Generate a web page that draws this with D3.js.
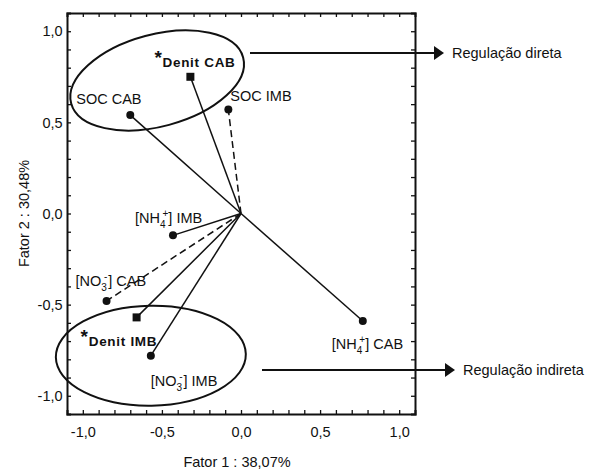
<html>
<head>
    <style>
        body { margin: 0; background: #fff; }
        text { font-family: "Liberation Sans", Arial, sans-serif; fill: #111; }
    </style>
</head>
<body>
    <div id="chart"></div>
    <script src="https://d3js.org/d3.v7.min.js"></script>
    <script>
        // loadings
        var names = ["Denit CAB", "SOC CAB", "SOC IMB", "NH4 IMB", "NO3 CAB", "Denit IMB", "NO3 IMB", "NH4 CAB"];
        var fator1 = [-0.32, -0.70, -0.08, -0.43, -0.85, -0.66, -0.57, 0.77];
        var fator2 = [0.75, 0.54, 0.57, -0.12, -0.48, -0.57, -0.78, -0.59];
        var shapes = ["square", "circle", "circle", "circle", "circle", "square", "circle", "circle"];
        var dashed = [false, false, true, false, true, false, false, false];
        var tickValues = [-1.0, -0.5, 0.0, 0.5, 1.0];
        var tickLabels = ["-1,0", "-0,5", "0,0", "0,5", "1,0"];

        // groups circled on the chart (centre in data units)
        var groupCx = [-0.53, -0.57];
        var groupCy = [0.73, -0.78];
        var groupText = ["Regulação direta", "Regulação indireta"];

        var width = 601, height = 471;
        var margin = { left: 67, top: 13, right: 186, bottom: 57 };

        var svg = d3.select("#chart").append("svg")
            .attr("width", width)
            .attr("height", height);

        var x = d3.scaleLinear().domain([-1.1, 1.1]).range([margin.left, width - margin.right]);
        var y = d3.scaleLinear().domain([-1.1, 1.1]).range([height - margin.bottom, margin.top]);

        var minor = d3.range(-1.0, 1.001, 0.1);

        // axes with inward ticks on all four sides
        function fmt(d) {
            var i = tickValues.findIndex(function (t) { return Math.abs(t - d) < 1e-6; });
            return i >= 0 ? tickLabels[i] : "";
        }
        var axB = svg.append("g").attr("transform", "translate(0," + y.range()[0] + ")")
            .call(d3.axisBottom(x).tickValues(minor).tickSize(-4).tickFormat(fmt));
        var axL = svg.append("g").attr("transform", "translate(" + x.range()[0] + ",0)")
            .call(d3.axisLeft(y).tickValues(minor).tickSize(-4).tickFormat(fmt));
        var axT = svg.append("g").attr("transform", "translate(0," + y.range()[1] + ")")
            .call(d3.axisTop(x).tickValues(minor).tickSize(-4).tickFormat(""));
        var axR = svg.append("g").attr("transform", "translate(" + x.range()[1] + ",0)")
            .call(d3.axisRight(y).tickValues(minor).tickSize(-4).tickFormat(""));

        [axB, axL, axT, axR].forEach(function (g) {
            g.select(".domain").attr("stroke", "#111").attr("stroke-width", 2);
            g.selectAll(".tick line").attr("stroke", "#111").attr("stroke-width", 1.3);
            g.selectAll(".tick text").attr("font-size", 14.5)
                .attr("font-family", "Liberation Sans, Arial, sans-serif").attr("fill", "#222");
        });
        axB.selectAll(".tick text").attr("dy", "1.35em");
        axL.selectAll(".tick text").attr("dx", "-0.1em");

        // axis titles
        svg.append("text")
            .attr("x", x(0) - 4).attr("y", 467)
            .attr("text-anchor", "middle").attr("font-size", 14.5)
            .text("Fator 1 : 38,07%");
        svg.append("text")
            .attr("transform", "translate(29," + y(0) + ") rotate(-90)")
            .attr("text-anchor", "middle").attr("font-size", 14.5)
            .text("Fator 2 : 30,48%");

        // vectors from origin
        var data = names.map(function (n, i) {
            return { name: n, x: fator1[i], y: fator2[i], shape: shapes[i], dashed: dashed[i] };
        });

        svg.append("g").selectAll("line")
            .data(data)
            .enter().append("line")
            .attr("x1", x(0)).attr("y1", y(0))
            .attr("x2", function (d) { return x(d.x); })
            .attr("y2", function (d) { return y(d.y); })
            .attr("stroke", "#111")
            .attr("stroke-width", 1.5)
            .attr("stroke-dasharray", function (d) { return d.dashed ? "7,4" : null; });

        var pts = svg.append("g");
        pts.selectAll("circle")
            .data(data.filter(function (d) { return d.shape == "circle"; }))
            .enter().append("circle")
            .attr("cx", function (d) { return x(d.x); })
            .attr("cy", function (d) { return y(d.y); })
            .attr("r", 4)
            .attr("fill", "#111");
        pts.selectAll("rect")
            .data(data.filter(function (d) { return d.shape == "square"; }))
            .enter().append("rect")
            .attr("x", function (d) { return x(d.x) - 4; })
            .attr("y", function (d) { return y(d.y) - 4; })
            .attr("width", 8).attr("height", 8)
            .attr("fill", "#111");

        // labels: offsets in pixels from the point
        var lab = svg.append("g").attr("font-size", 14.5);
        function plain(i, dx, dy, anchor) {
            return lab.append("text")
                .attr("x", x(fator1[i]) + dx).attr("y", y(fator2[i]) + dy)
                .attr("text-anchor", anchor || "start");
        }
        // ion label: subscript and superscript nearly stacked
        function ion(t, main, sub, sup, rest) {
            t.append("tspan").text(main);
            t.append("tspan").attr("font-size", 10).attr("dy", 5).text(sub);
            t.append("tspan").attr("font-size", 10).attr("dy", -11).attr("dx", -3).text(sup);
            t.append("tspan").attr("dy", 6).attr("dx", sup == "-" ? 1 : 0).text(rest);
        }

        plain(1, -54, -11).text("SOC CAB");
        plain(2, 2, -9).text("SOC IMB");
        ion(plain(3, -38, -12), "[NH", "4", "+", "] IMB");
        ion(plain(4, -31, -15), "[NO", "3", "-", "] CAB");
        ion(plain(6, 0, 30), "[NO", "3", "-", "] IMB");
        ion(plain(7, -31, 28), "[NH", "4", "+", "] CAB");

        function denit(i, dx, dy, txt) {
            var t = lab.append("text")
                .attr("x", x(fator1[i]) + dx).attr("y", y(fator2[i]) + dy)
                .attr("font-weight", "bold").attr("letter-spacing", 0.7);
            t.append("tspan").attr("font-size", 19).attr("dy", -3).text("*");
            t.append("tspan").attr("font-size", 13.5).attr("dy", 3).text(txt);
        }
        denit(0, -36, -10, "Denit CAB");
        denit(5, -56, 29, "Denit IMB");

        // circled groups and arrows to the side notes
        var ell = [
            { rx: 89, ry: 46, rot: -15, x0: 250, x1: 444, ay: 53 },
            { rx: 95, ry: 50, rot: -1, x0: 262, x1: 455, ay: 370 }
        ];
        var ann = svg.append("g");
        ell.forEach(function (e, i) {
            var cx = x(groupCx[i]), cy = y(groupCy[i]);
            ann.append("ellipse")
                .attr("cx", cx).attr("cy", cy)
                .attr("rx", e.rx).attr("ry", e.ry)
                .attr("transform", "rotate(" + e.rot + "," + cx + "," + cy + ")")
                .attr("fill", "none").attr("stroke", "#111").attr("stroke-width", 2);
            ann.append("line")
                .attr("x1", e.x0).attr("y1", e.ay).attr("x2", e.x1 - 9).attr("y2", e.ay)
                .attr("stroke", "#111").attr("stroke-width", 2);
            ann.append("path")
                .attr("d", "M" + (e.x1 - 10) + "," + (e.ay - 7) + "L" + e.x1 + "," + e.ay + "L" + (e.x1 - 10) + "," + (e.ay + 7) + "Z")
                .attr("fill", "#111");
            ann.append("text")
                .attr("x", e.x1 + 8).attr("y", e.ay + 5)
                .attr("font-size", 14.5)
                .text(groupText[i]);
        });
    </script>
</body>
</html>
